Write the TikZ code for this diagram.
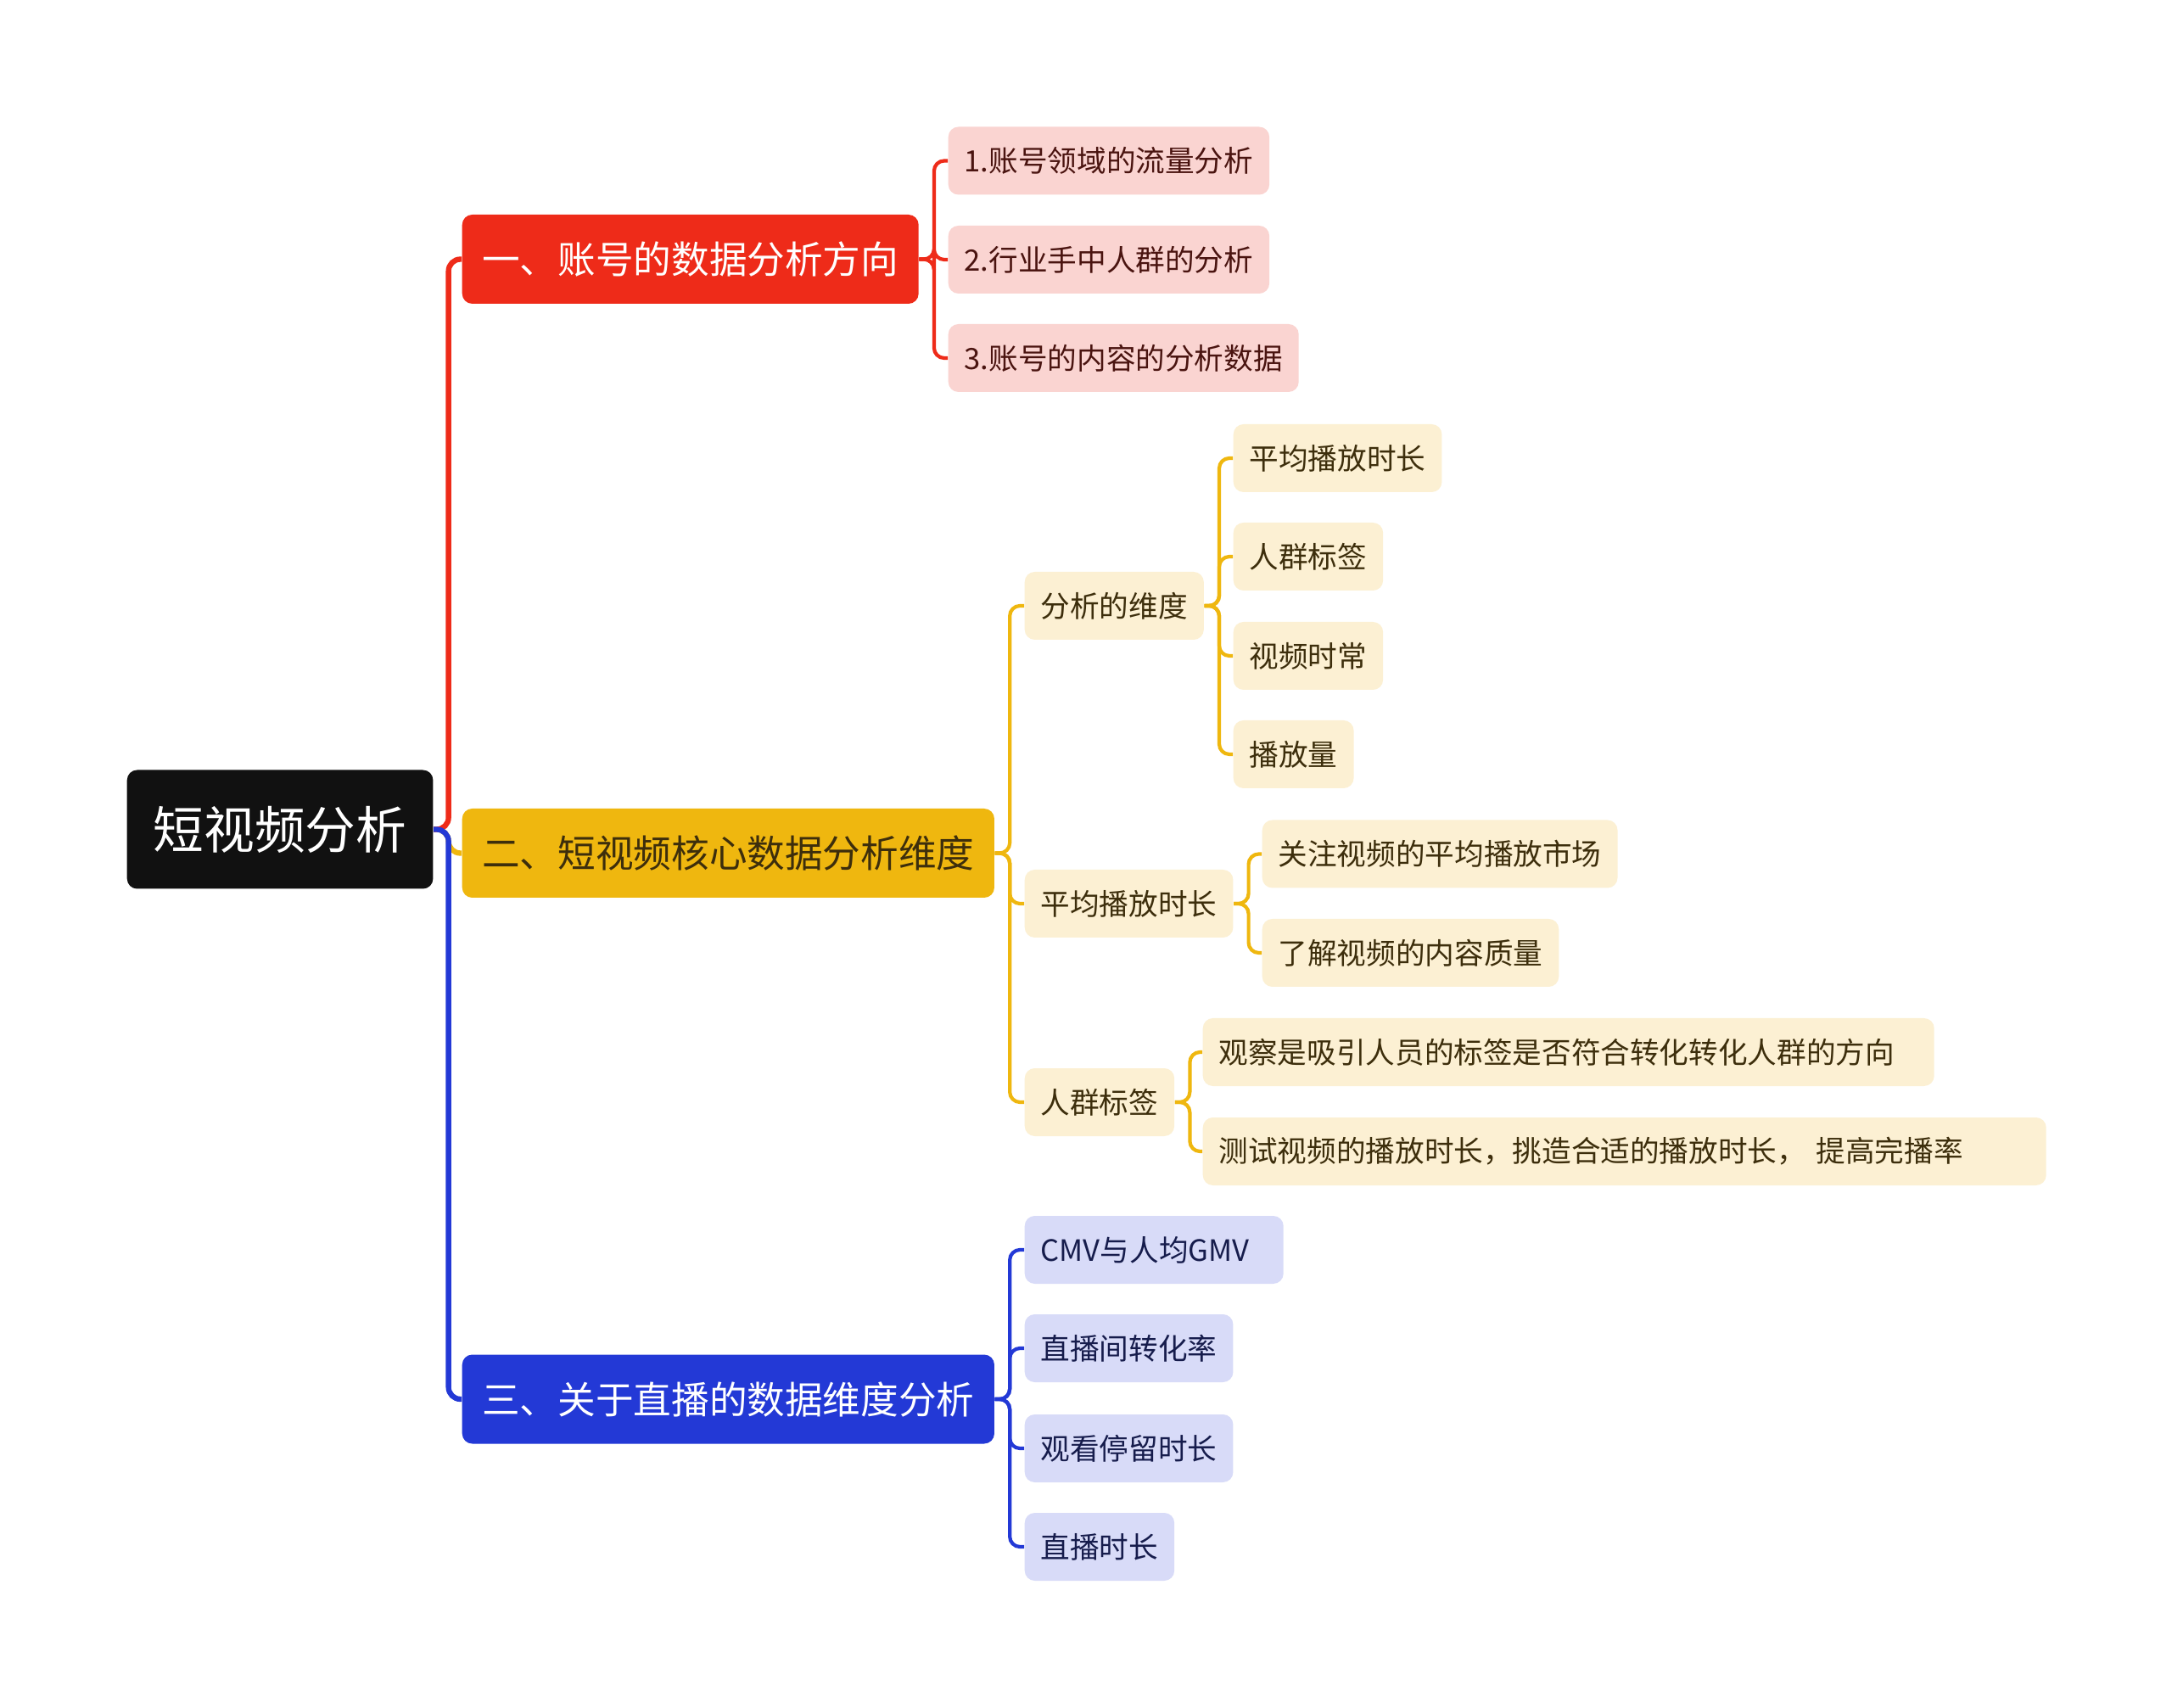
\documentclass[tikz,border=0pt]{standalone}
\usepackage{fontspec}
\newfontfamily\cjk{Noto Sans CJK SC}
\definecolor{rootc}{HTML}{111111}
\definecolor{redc}{HTML}{EE2B19}
\definecolor{redlt}{HTML}{FAD4D1}
\definecolor{redtxt}{HTML}{4A1410}
\definecolor{yel}{HTML}{EFB70F}
\definecolor{yellt}{HTML}{FCF0D3}
\definecolor{yeltxt}{HTML}{3D2E0C}
\definecolor{blu}{HTML}{2339D6}
\definecolor{blult}{HTML}{D8DBF8}
\definecolor{blutxt}{HTML}{161C4C}

\begin{document}
\begin{tikzpicture}[
  font=\cjk,
  box/.style={rounded corners=0.12cm, inner xsep=0.19cm, inner ysep=0pt, anchor=west},
  rootbox/.style={box, fill=rootc, text=white, minimum height=1.4cm, inner xsep=0.31cm,
    font=\cjk\fontsize{17}{20}\selectfont},
  mainbox/.style={box, minimum height=1.05cm, inner xsep=0.235cm, font=\cjk\fontsize{12.7}{15}\selectfont},
  leaf/.style={box, minimum height=0.8cm, font=\cjk\fontsize{9.85}{12}\selectfont},
  wide/.style={text width=#1, align=left},
  redleaf/.style={leaf, fill=redlt, text=redtxt},
  yelleaf/.style={leaf, fill=yellt, text=yeltxt},
  bluleaf/.style={leaf, fill=blult, text=blutxt},
  trunk/.style={line width=1.8pt, rounded corners=0.14cm},
  lnk/.style={line width=1.2pt, rounded corners=0.12cm},
]
\useasboundingbox[fill=white] (0,0) rectangle (25.6,-20.13);
% Grid: 1cm = 100px of the picture; every node is placed by its west anchor.
\def\dx{0.175}

% --- Root and main branches -------------------------------------------------
\node[rootbox] (root) at (1.49,-9.775) {短视频分析};
\node[mainbox, fill=redc, text=white] (one) at (5.44,-3.055) {一、账号的数据分析方向};
\node[mainbox, fill=yel, text=yeltxt] (two) at (5.44,-10.055) {二、短视频核心数据分析维度};
\node[mainbox, fill=blu, text=white] (three) at (5.44,-16.49) {三、关于直播的数据维度分析};
\draw[trunk, yel] (root.east) -- ++(\dx,0) |- (two.west);
\draw[trunk, redc] (root.east) -- ++(\dx,0) |- (one.west);
\draw[trunk, blu] (root.east) -- ++(\dx,0) |- (three.west);

% --- Branch one (red) -------------------------------------------------------
\node[redleaf] (r1) at (11.17,-1.895) {1.账号领域的流量分析};
\node[redleaf] (r2) at (11.17,-3.06) {2.行业手中人群的分析};
\node[redleaf] (r3) at (11.17,-4.22) {3.账号的内容的分析数据};
\foreach \c in {r1,r2,r3}
  \draw[lnk, redc] (one.east) -- ++(\dx,0) |- (\c.west);

% --- Branch two (yellow) ----------------------------------------------------
\node[yelleaf] (dim) at (12.07,-7.14) {分析的维度};
\node[yelleaf] (avg) at (12.07,-10.65) {平均播放时长};
\node[yelleaf] (tag) at (12.07,-12.99) {人群标签};
\foreach \c in {dim,avg,tag}
  \draw[lnk, yel] (two.east) -- ++(\dx,0) |- (\c.west);

\node[yelleaf] (dim1) at (14.53,-5.40) {平均播放时长};
\node[yelleaf] (dim2) at (14.53,-6.56) {人群标签};
\node[yelleaf] (dim3) at (14.53,-7.73) {视频时常};
\node[yelleaf] (dim4) at (14.53,-8.89) {播放量};
\foreach \c in {dim1,dim2,dim3,dim4}
  \draw[lnk, yel] (dim.east) -- ++(\dx,0) |- (\c.west);

\node[yelleaf] (avg1) at (14.87,-10.065) {关注视频的平均播放市场};
\node[yelleaf] (avg2) at (14.87,-11.23) {了解视频的内容质量};
\foreach \c in {avg1,avg2}
  \draw[lnk, yel] (avg.east) -- ++(\dx,0) |- (\c.west);

\node[yelleaf, wide=8.24cm] (tag1) at (14.17,-12.40) {观察是吸引人员的标签是否符合转化转化人群的方向};
\node[yelleaf, wide=9.56cm] (tag2) at (14.17,-13.57) {测试视频的播放时长，挑造合适的播放时长， 提高完播率};
\foreach \c in {tag1,tag2}
  \draw[lnk, yel] (tag.east) -- ++(\dx,0) |- (\c.west);

% --- Branch three (blue) ----------------------------------------------------
\node[bluleaf, wide=2.67cm] (b1) at (12.07,-14.73) {CMV与人均GMV};
\node[bluleaf] (b2) at (12.07,-15.89) {直播间转化率};
\node[bluleaf] (b3) at (12.07,-17.07) {观看停留时长};
\node[bluleaf] (b4) at (12.07,-18.23) {直播时长};
\foreach \c in {b1,b2,b3,b4}
  \draw[lnk, blu] (three.east) -- ++(\dx,0) |- (\c.west);

\end{tikzpicture}
\end{document}
